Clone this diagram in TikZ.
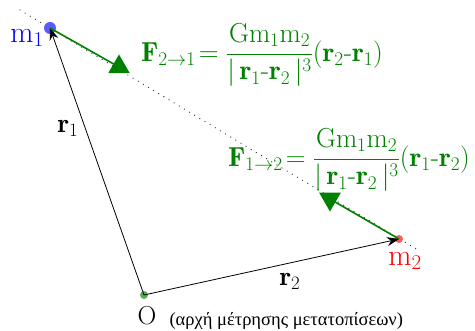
\RequirePackage{fix-cm}
\documentclass[tikz,border=0pt]{standalone}
\usepackage{fontspec}
\newfontfamily\greekfont{Liberation Serif}
\usetikzlibrary{arrows.meta,shapes.geometric}
\definecolor{forcegreen}{RGB}{0,128,0}
\definecolor{ptblue}{RGB}{90,90,255}
\definecolor{ptred}{RGB}{255,90,90}
\definecolor{ptgreen}{RGB}{90,170,90}
\begin{document}
\begin{tikzpicture}[x=1pt, y=-1pt,
    pt/.style = {circle, inner sep=0pt, minimum size=#1},
    vec/.style = {-{Stealth[length=12pt,width=9pt]}, line width=0.8pt},
    force/.style = {draw=forcegreen, line width=1.6pt},
    tip/.style = {regular polygon, regular polygon sides=3, fill=forcegreen, inner sep=0pt, minimum size=25pt},
    lbl/.style = {font=\fontsize{27}{30}\selectfont},
    formula/.style = {text=forcegreen, font=\fontsize{27.5}{30}\selectfont}]

    \useasboundingbox (0,0) rectangle (475,331);

    \coordinate (a) at (20,10);
    \coordinate (b) at (418,250);
    \draw[line width=1.3pt, line cap=round, dash pattern=on 0pt off 6pt, black!80] (a) -- (b);

    \node[pt=12pt, fill=ptblue] (m1) at (50,28) {};
    \node[pt=8pt, fill=ptred] (m2) at (399,239) {};
    \node[pt=8pt, fill=ptgreen] (o) at (144,295) {};

    \draw[vec] (o.center) -- (m1.center);
    \draw[vec] (o.center) -- (m2.center);
    \node[lbl] (r1) at (68,128) {$\mathbf{r}_1$};
    \node[lbl] (r2) at (290,281) {$\mathbf{r}_2$};

    \node[tip] (t1) at (119,67) {};
    \node[tip, rotate=180] (t2) at (330,199) {};
    \draw[force] (m1.center) -- (t1.center);
    \draw[force] (m2.center) -- (t2.center);

    \node[lbl, text=blue, font=\fontsize{30}{34}\selectfont] (l1) at (27,38) {m$_1$};
    \node[lbl, text=red, font=\fontsize{30}{34}\selectfont] (l2) at (405,261) {m$_2$};
    \node[lbl, font=\fontsize{26}{30}\selectfont] (l3) at (147,316) {O};
    \node[anchor=west, font=\greekfont\fontsize{18.5}{22}\selectfont] (l4) at (166,321) {(αρχή μέτρησης μετατοπίσεων)};

    \node[formula] (f1) at (262,55) {$\mathbf{F}_{2\to1}\!=\displaystyle\frac{\mathrm{Gm_1m_2}}{|\,\mathbf{r}_1\mbox{-}\mathbf{r}_2\,|^3}(\mathbf{r}_2\mbox{-}\mathbf{r}_1)$};
    \node[formula] (f2) at (349,160) {$\mathbf{F}_{1\to2}\!=\displaystyle\frac{\mathrm{Gm_1m_2}}{|\,\mathbf{r}_1\mbox{-}\mathbf{r}_2\,|^3}(\mathbf{r}_1\mbox{-}\mathbf{r}_2)$};

\end{tikzpicture}
\end{document}
